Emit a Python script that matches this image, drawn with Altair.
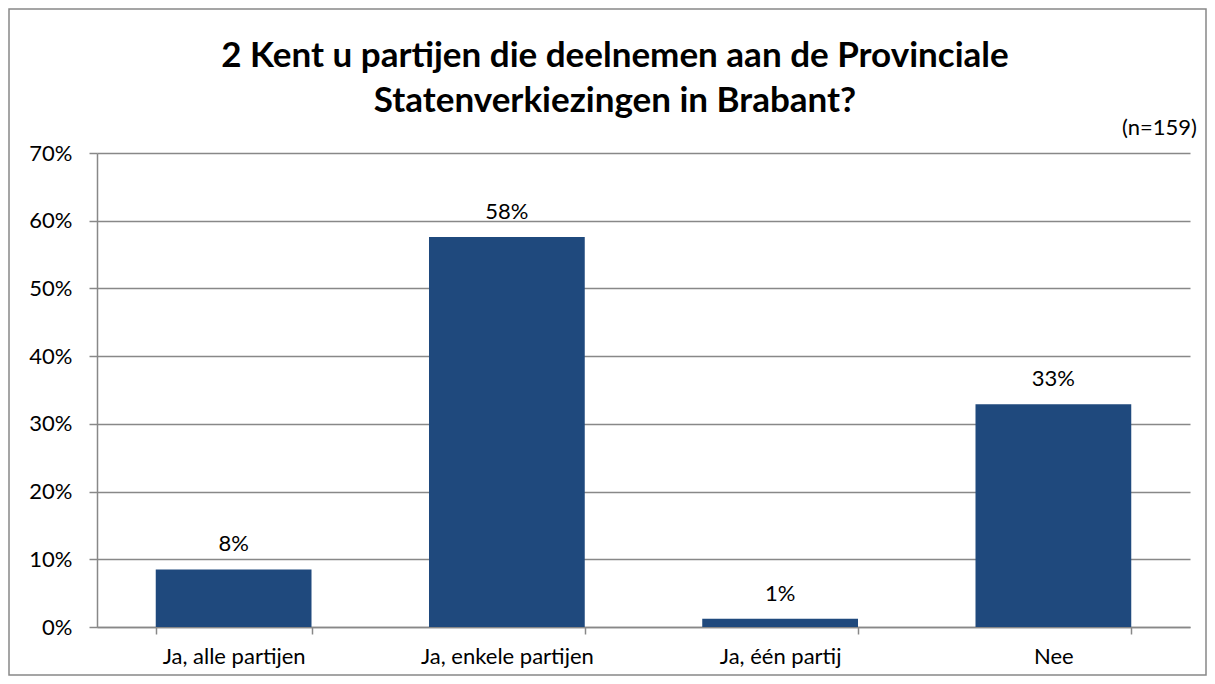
import altair as alt
import pandas as pd

categories = ["Ja, alle partijen", "Ja, enkele partijen", "Ja, één partij", "Nee"]
values = [8.5, 57.6, 1.2, 32.9]
labels = ["8%", "58%", "1%", "33%"]
y_ticks = [0, 10, 20, 30, 40, 50, 60, 70]
title_lines = ["2 Kent u partijen die deelnemen aan de Provinciale", "Statenverkiezingen in Brabant?"]
note = "(n=159)"

df = pd.DataFrame({"cat": categories, "val": values, "lab": labels})

FONT = "Lato"
FS = 22
W, H = 1093, 474

x = alt.X("cat:N", sort=categories, title=None,
          scale=alt.Scale(paddingInner=0.43, paddingOuter=0.215),
          axis=alt.Axis(labelAngle=0, labelFontSize=FS, labelFont=FONT, labelColor="black",
                        labelPadding=12, domainColor="#888888", domainWidth=1.5,
                        tickColor="#888888", tickWidth=1.5, tickSize=7, tickBand="extent"))
y = alt.Y("val:Q", title=None,
          scale=alt.Scale(domain=[0, 70]),
          axis=alt.Axis(values=y_ticks, labelExpr="datum.value + '%'", labelFontSize=FS,
                        labelFont=FONT, labelColor="black", labelPadding=17,
                        domainColor="#888888", domainWidth=1.5, tickColor="#888888",
                        tickWidth=1.5, tickSize=8, gridColor="#888888", gridWidth=1.5))

bars = alt.Chart(df).mark_bar(color="#1F497D").encode(x=x, y=y)
text = alt.Chart(df).mark_text(fontSize=FS, font=FONT, color="black", baseline="alphabetic", dy=-18).encode(
    x=alt.X("cat:N", sort=categories), y="val:Q", text="lab:N")
ntext = alt.Chart(pd.DataFrame({"t": [note]})).mark_text(
    fontSize=FS, font=FONT, color="black", align="right", baseline="middle").encode(
    x=alt.value(W + 7), y=alt.value(-25), text="t:N")
ttext = alt.Chart(pd.DataFrame({"a": [0]})).mark_text(
    fontSize=35, font=FONT, fontWeight="bold", color="black", align="center",
    baseline="middle", lineHeight=45).encode(
    x=alt.value(518), y=alt.value(-97), text=alt.value(title_lines))
border = alt.Chart(pd.DataFrame({"a": [0]})).mark_rect(fill=None, stroke="#888888", strokeWidth=1.5).encode(
    x=alt.value(-88), x2=alt.value(W + 16), y=alt.value(-144), y2=alt.value(H + 48))

chart = alt.layer(bars, text, ntext, ttext, border).properties(
    width=W, height=H,
    autosize=alt.AutoSizeParams(type="none"),
    padding={"left": 89, "top": 145, "right": 17, "bottom": 49},
).configure_view(stroke=None)

chart.save("out.html", embed_options={"renderer": "svg", "actions": False})
